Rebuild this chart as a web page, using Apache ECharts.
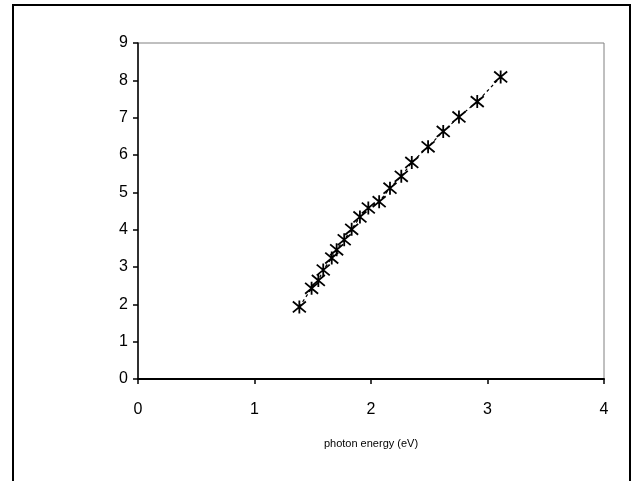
<!DOCTYPE html>
<html>
<head>
<meta charset="utf-8">
<script src="https://cdn.jsdelivr.net/npm/echarts@6/dist/echarts.min.js"></script>
<style>
  html, body { margin: 0; padding: 0; background: #fff; }
  #chart { width: 632px; height: 481px; }
</style>
</head>
<body>
<div id="chart"></div>
<script>
const energy = [1.385, 1.49, 1.548, 1.59, 1.663, 1.705, 1.77, 1.834, 1.905, 1.977,
    2.07, 2.163, 2.26, 2.35, 2.49, 2.62, 2.755, 2.912, 3.113];
const values = [1.93, 2.43, 2.64, 2.92, 3.24, 3.46, 3.73, 4.01, 4.34, 4.58,
    4.75, 5.11, 5.43, 5.80, 6.22, 6.63, 7.02, 7.43, 8.09];
const xTicks = [0, 1, 2, 3, 4];
const yTicks = [0, 1, 2, 3, 4, 5, 6, 7, 8, 9];

const chartDom = document.getElementById("chart");
const myChart = echarts.init(chartDom);

const points = energy.map(function (e, i) {
    return [e, values[i]];
});

const option = {
    animation: false,
    textStyle: { fontFamily: "Liberation Sans, Arial, sans-serif" },
    graphic: [
        {
            type: "rect",
            shape: { x: 13, y: 5, width: 617, height: 500 },
            style: { fill: "none", stroke: "#000", lineWidth: 2 },
            silent: true,
        },
    ],
    grid: {
        left: 138,
        right: 28,
        top: 43,
        bottom: 102,
        show: true,
        borderColor: "#808080",
        borderWidth: 1,
    },
    xAxis: {
        type: "value",
        min: xTicks[0],
        max: xTicks[xTicks.length - 1],
        interval: 1,
        name: "photon energy (eV)",
        nameLocation: "middle",
        nameGap: 59,
        nameTextStyle: { fontSize: 11, color: "#000" },
        axisLine: { lineStyle: { color: "#000", width: 2 } },
        axisTick: { show: true, length: 5, lineStyle: { color: "#000", width: 1.5 } },
        axisLabel: { fontSize: 16, color: "#000", margin: 23 },
        splitLine: { show: false },
    },
    yAxis: {
        type: "value",
        min: yTicks[0],
        max: yTicks[yTicks.length - 1],
        interval: 1,
        axisLine: { show: true, lineStyle: { color: "#000", width: 1.5 } },
        axisTick: { show: true, length: 5, lineStyle: { color: "#000", width: 1.5 } },
        axisLabel: { fontSize: 16, color: "#000", margin: 10 },
        splitLine: { show: false },
    },
    series: [
        {
            type: "line",
            data: points,
            symbol: "path://M0,0L10,10M10,0L0,10M5,-1L5,11",
            symbolSize: 13,
            showAllSymbol: true,
            lineStyle: { color: "#000", width: 1.2, type: [3, 3] },
            itemStyle: { color: "none", borderColor: "#000", borderWidth: 1.8 },
        },
    ],
};
myChart.setOption(option);
</script>
</body>
</html>
